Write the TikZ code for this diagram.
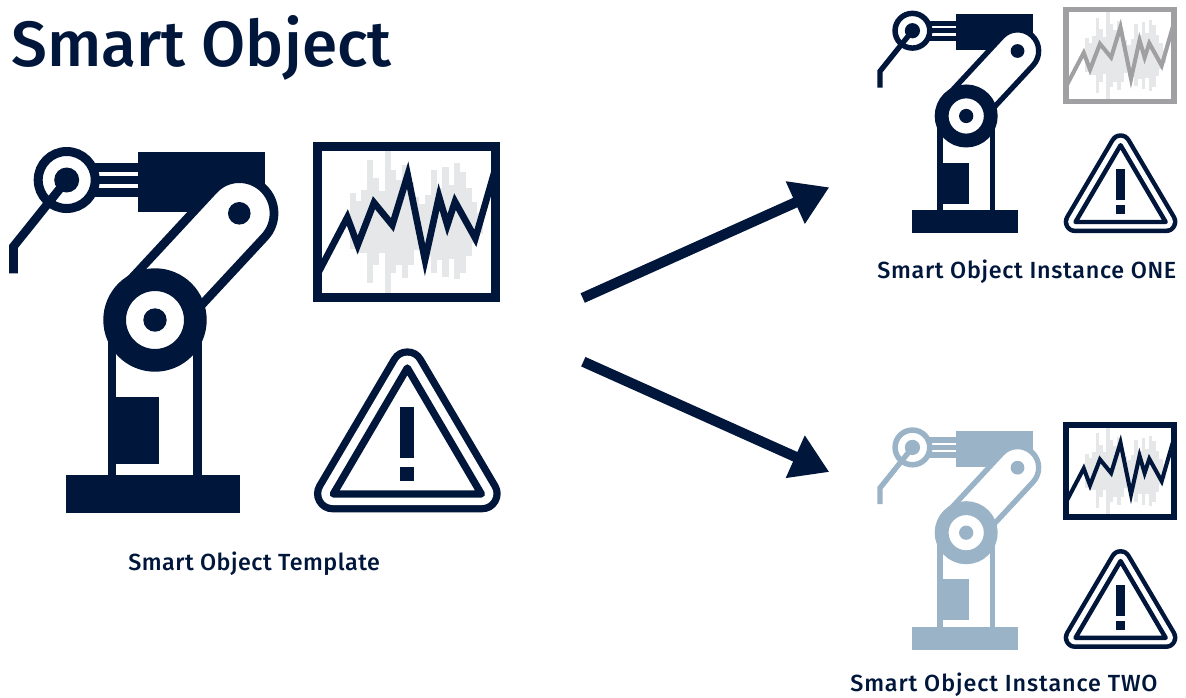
\documentclass[tikz,border=0pt]{standalone}
\usepackage{fontspec}
\usetikzlibrary{arrows.meta}
\newfontfamily\titlefont{Fira Sans Medium}
\newfontfamily\labelA{Fira Sans Medium}[LetterSpace=2.1]
\newfontfamily\labelB{Fira Sans Medium}[LetterSpace=3.0]
\newfontfamily\labelC{Fira Sans Medium}[LetterSpace=3.9]
\definecolor{navy}{HTML}{00163A}
\definecolor{steel}{HTML}{9AB3C7}
\definecolor{mist}{HTML}{E6E7E8}
\definecolor{ash}{HTML}{A0A0A2}
\tikzset{
  titletext/.style={anchor=base west,inner sep=0pt,text=navy,font=\titlefont\fontsize{48pt}{48pt}\selectfont},
  labeltext/.style={anchor=base west,inner sep=0pt,text=navy},
  bigarrow/.style={draw=navy,line width=7.8pt,-{Triangle[length=28pt,width=33pt]},shorten >=0pt}
}
% #1 origin x, #2 origin y, #3 scale, #4 colour
\newcommand{\drawrobot}[4]{%
  \pgfmathsetmacro\uu{#3*0.75}%
  \begin{scope}[shift={(#1,#2)}]
  \begin{scope}[x=\uu pt,y=-\uu pt]
    \fill[#4] (107.7,330) rectangle (116.3,475);
    \fill[#4] (193.3,330) rectangle (202,475);
    \fill[#4] (107.7,396.7) rectangle (159.3,464);
    \fill[#4] (66,475) rectangle (240,512.7);
    \fill[#4] (90,163.3) rectangle (140,172.3);
    \fill[#4] (90,175.7) rectangle (140,184.3);
    \fill[#4] (90,188.3) rectangle (140,197);
    \fill[#4] (138.3,152.3) rectangle (265,211.7);
    \draw[#4,fill=white,line width=8.7*\uu pt]
      (125.5,285) -- (213.9,189.7) arc[start angle=-137.1,end angle=42.9,radius=34.7]
      -- (176.3,332.2) -- cycle;
    \fill[#4] (239.3,213.3) circle[radius=11.3];
    \draw[#4,fill=white,line width=22.7*\uu pt] (155,320) circle[radius=40.35];
    \fill[#4] (155,320) circle[radius=11.7];
    \draw[#4,fill=white,line width=9*\uu pt] (66.7,180) circle[radius=28.5];
    \fill[#4] (66.7,180) circle[radius=12.5];
    \draw[#4,line width=8.7*\uu pt,miter limit=10] (13.5,273.3) -- (13.5,246.5) -- (62,186);
  \end{scope}
  \end{scope}}
% #1 origin x, #2 origin y, #3 scale, #4 frame colour, #5 line colour
\newcommand{\drawchart}[5]{%
  \pgfmathsetmacro\uu{#3*0.25}%
  \begin{scope}[shift={(#1,#2)}]
  \begin{scope}[x=\uu pt,y=-\uu pt]
    \foreach \xa/\xb/\ya/\yb in {150/167/190/358,167/184/212/370,184/201/180/370,201/219/90/458,219/237/145/405,237/254/182/368,254/271/62/488,271/288/120/430,288/305/150/405,305/323/105/443,323/340/155/405,340/357/200/360,357/375/222/345,375/392/195/380,392/410/120/428,410/427/175/390,427/445/110/440,445/462/165/388,462/480/100/448,480/497/125/430,497/514/175/378,514/531/215/340,531/548/250/312}
      \fill[mist] (\xa,\ya) rectangle (\xb+0.5,\yb);
    \begin{scope}
      \clip (53,48) rectangle (588,502);
      \draw[#5,line width=20*\uu pt,miter limit=10]
        (55,428) -- (142,262) -- (173,345) -- (222,218) -- (277,285) -- (323,135) -- (375,390) -- (417,200) -- (442,285) -- (465,215) -- (526,325) -- (585,120);
    \end{scope}
    \draw[#4,line width=27*\uu pt] (53.5,48.5) rectangle (587.5,501.5);
  \end{scope}
  \end{scope}}
% #1 origin x, #2 origin y, #3 scale, #4 colour
\newcommand{\drawtri}[4]{%
  \pgfmathsetmacro\uu{#3*0.25}%
  \begin{scope}[shift={(#1,#2)}]
  \begin{scope}[x=\uu pt,y=-\uu pt,line join=round]
    \draw[#4,line width=112*\uu pt] (322,81) -- (98,461) -- (546,461) -- cycle;
    \draw[white,fill=white,line width=68*\uu pt] (322,81) -- (98,461) -- (546,461) -- cycle;
    \draw[#4,fill=white,line width=22*\uu pt] (322,84) -- (100,462) -- (544,462) -- cycle;
    \fill[#4] (300,200) rectangle (342,355);
    \fill[#4] (300,380) rectangle (342,422);
  \end{scope}
  \end{scope}}
\begin{document}
\begin{tikzpicture}[x=0.75pt,y=-0.75pt]
  \useasboundingbox (0,0) rectangle (1186,697);
  \fill[white] (0,0) rectangle (1186,697);
  \node[titletext] (title) at (11,66) {Smart Object};

  \drawrobot{0}{0}{1}{navy}
  \drawchart{300}{130}{1}{navy}{navy}
  \drawtri{300}{340}{1}{navy}
  \node[labeltext,font=\labelA\fontsize{17.5pt}{17.5pt}\selectfont] (tpl) at (128,570) {Smart Object Template};

  \drawrobot{871.8}{-78.9}{0.609}{navy}
  \drawchart{1054.9}{-0.4}{0.609}{ash}{ash}
  \drawtri{1055.2}{128.2}{0.609}{navy}
  \node[labeltext,font=\labelB\fontsize{17.5pt}{17.5pt}\selectfont] (one) at (877,278) {Smart Object Instance ONE};

  \drawrobot{871.8}{337.8}{0.609}{steel}
  \drawchart{1054.9}{415.2}{0.609}{navy}{navy}
  \drawtri{1055.2}{544}{0.609}{navy}
  \node[labeltext,font=\labelC\fontsize{17.5pt}{17.5pt}\selectfont] (two) at (850,691) {Smart Object Instance TWO};

  \coordinate (a1s) at (582.7,298);
  \coordinate (a1e) at (829.3,187.3);
  \coordinate (a2s) at (583.3,361.7);
  \coordinate (a2e) at (829.3,472);
  \draw[bigarrow] (a1s) -- (a1e);
  \draw[bigarrow] (a2s) -- (a2e);
\end{tikzpicture}
\end{document}
